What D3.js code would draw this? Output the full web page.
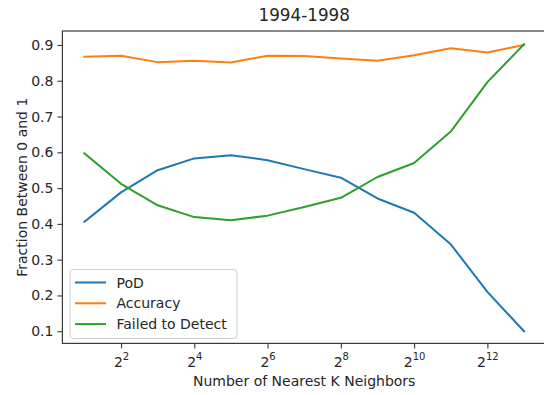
<!DOCTYPE html>
<html>
<head>
<meta charset="utf-8">
<script src="https://cdn.jsdelivr.net/npm/d3@7"></script>
<style>
  html, body { margin: 0; padding: 0; background: #fff; }
  svg { display: block; font-family: "DejaVu Sans", sans-serif; }
</style>
</head>
<body>
<svg id="chart" width="544" height="395"></svg>
<script>
// Number of nearest neighbours K (powers of two)
const kValues = [2, 4, 8, 16, 32, 64, 128, 256, 512, 1024, 2048, 4096, 8192];

// Scores for each K
const pod      = [0.406, 0.488, 0.550, 0.583, 0.592, 0.578, 0.553, 0.529, 0.471, 0.431, 0.343, 0.210, 0.100];
const accuracy = [0.867, 0.870, 0.852, 0.856, 0.851, 0.870, 0.869, 0.862, 0.856, 0.871, 0.891, 0.879, 0.900];
const failed   = [0.597, 0.512, 0.452, 0.419, 0.410, 0.423, 0.447, 0.473, 0.531, 0.570, 0.658, 0.796, 0.902];

const seriesNames = ["PoD", "Accuracy", "Failed to Detect"];
const seriesColors = ["#1f77b4", "#ff7f0e", "#2ca02c"];

// Axis tick labels
const xTickExponents = [2, 4, 6, 8, 10, 12];
const yTicks = [0.1, 0.2, 0.3, 0.4, 0.5, 0.6, 0.7, 0.8, 0.9];

const titleText = "1994-1998";
const xLabel = "Number of Nearest K Neighbors";
const yLabel = "Fraction Between 0 and 1";

const svg = d3.select("#chart");
const plot = { left: 62.4, right: 546, top: 31, bottom: 343.4 };

const x = d3.scaleLog().base(2)
  .domain([Math.pow(2, 0.4), Math.pow(2, 13.6)])
  .range([plot.left, plot.right]);
const y = d3.scaleLinear()
  .domain([0.066, 0.939])
  .range([plot.bottom, plot.top]);

const ink = "#262626";

// Lines
const series = [pod, accuracy, failed];
const line = d3.line()
  .x((d, i) => x(kValues[i]))
  .y(d => y(d));

svg.append("g").selectAll("path")
  .data(series)
  .join("path")
  .attr("fill", "none")
  .attr("stroke", (d, i) => seriesColors[i])
  .attr("stroke-width", 2)
  .attr("stroke-linejoin", "round")
  .attr("stroke-linecap", "square")
  .attr("d", line);

// Frame
svg.append("rect")
  .attr("x", plot.left).attr("y", plot.top)
  .attr("width", plot.right - plot.left)
  .attr("height", plot.bottom - plot.top)
  .attr("fill", "none")
  .attr("stroke", "#3a3a3a")
  .attr("stroke-width", 1.2);

// Y axis
const yAxis = svg.append("g")
  .attr("transform", `translate(${plot.left},0)`)
  .call(d3.axisLeft(y).tickValues(yTicks).tickFormat(d3.format(".1f")).tickSize(5).tickPadding(4).tickSizeOuter(0));
yAxis.select(".domain").remove();
yAxis.selectAll("line").attr("stroke", "#3a3a3a").attr("stroke-width", 1.1);
yAxis.selectAll("text")
  .attr("fill", ink)
  .style("font-size", "14px")
  .style("font-family", "'DejaVu Sans', sans-serif");

// X axis with 2^n labels
const xAxis = svg.append("g")
  .attr("transform", `translate(0,${plot.bottom})`)
  .call(d3.axisBottom(x).tickValues(xTickExponents.map(e => Math.pow(2, e))).tickSize(5).tickFormat(() => "").tickSizeOuter(0));
xAxis.select(".domain").remove();
xAxis.selectAll("line").attr("stroke", "#3a3a3a").attr("stroke-width", 1.1);
xAxis.selectAll(".tick").each(function(d, i) {
  const t = d3.select(this).select("text");
  t.attr("y", null).attr("dy", null)
    .attr("y", 23.3)
    .attr("fill", ink)
    .style("font-size", "14px")
    .style("font-family", "'DejaVu Sans', sans-serif")
    .attr("text-anchor", "middle");
  t.text(null);
  t.append("tspan").text("2");
  t.append("tspan")
    .attr("dy", -6.5)
    .style("font-size", "10px")
    .text(xTickExponents[i]);
});

// Title
svg.append("text")
  .attr("x", (plot.left + plot.right) / 2)
  .attr("y", 20.5)
  .attr("text-anchor", "middle")
  .attr("fill", ink)
  .style("font-size", "16.8px")
  .text(titleText);

// Axis labels
svg.append("text")
  .attr("x", (plot.left + plot.right) / 2)
  .attr("y", 385.5)
  .attr("text-anchor", "middle")
  .attr("fill", ink)
  .style("font-size", "14px")
  .text(xLabel);

svg.append("text")
  .attr("transform", `translate(27,${(plot.top + plot.bottom) / 2}) rotate(-90)`)
  .attr("text-anchor", "middle")
  .attr("fill", ink)
  .style("font-size", "14px")
  .text(yLabel);

// Legend
const legend = svg.append("g").attr("transform", "translate(70,269.5)");
legend.append("rect")
  .attr("x", 0).attr("y", 0)
  .attr("width", 167).attr("height", 69)
  .attr("rx", 3)
  .attr("fill", "#fff").attr("fill-opacity", 0.8)
  .attr("stroke", "#d0d0d0").attr("stroke-width", 1);

const entries = legend.selectAll("g.entry")
  .data(seriesNames)
  .join("g")
  .attr("class", "entry")
  .attr("transform", (d, i) => `translate(0,${13 + i * 20.8})`);
entries.append("line")
  .attr("x1", 5).attr("x2", 36)
  .attr("y1", 0).attr("y2", 0)
  .attr("stroke", (d, i) => seriesColors[i])
  .attr("stroke-width", 2);
entries.append("text")
  .attr("x", 46.5)
  .attr("y", 5)
  .attr("fill", ink)
  .style("font-size", "14px")
  .text(d => d);
</script>
</body>
</html>
